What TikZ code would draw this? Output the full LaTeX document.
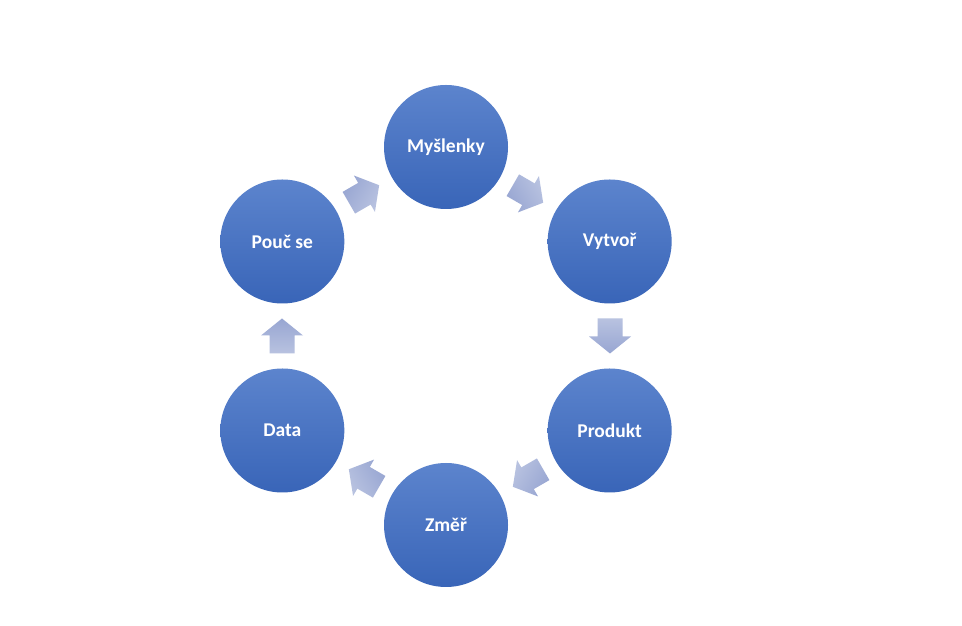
\documentclass[tikz,border=0pt]{standalone}
\usepackage{fontspec}
\setmainfont{Carlito}
\usetikzlibrary{calc}
\definecolor{ctop}{RGB}{92,132,205}
\definecolor{cbot}{RGB}{57,101,184}
\definecolor{atop}{RGB}{184,194,224}
\definecolor{abot}{RGB}{152,166,210}
\tikzset{
  stage/.style={circle, minimum size=124bp, inner sep=0pt, top color=ctop, bottom color=cbot,
    text=white, font=\fontsize{19.5bp}{22bp}\selectfont\bfseries},
}
\begin{document}
\begin{tikzpicture}[x=1bp,y=1bp]
\useasboundingbox[fill=white] (0,0) rectangle (962,626);
\coordinate (o) at (446,290);
\node[stage] (m) at ($(o)+(90:189)$) {Myšlenky};
\node[stage] (v) at ($(o)+(30:189)$) {Vytvoř};
\node[stage] (p) at ($(o)+(-30:189)$) {Produkt};
\node[stage] (z) at ($(o)+(-90:189)$) {Změř};
\node[stage] (d) at ($(o)+(-150:189)$) {Data};
\node[stage] (u) at ($(o)+(150:189)$) {Pouč se};
\foreach \a in {60,0,-60,-120,180,120}{
  \pgfmathsetmacro{\dir}{\a-90}
  \coordinate (c\a) at ($(o)+(\a:164)$);
  \shade[top color=atop, bottom color=abot, shading angle=-\dir-90, shift={(c\a)}, rotate=\dir]
    (-17.5,-12.5) -- (0.5,-12.5) -- (0.5,-21) -- (17.5,0) -- (0.5,21) -- (0.5,12.5) -- (-17.5,12.5) -- cycle;
}
\end{tikzpicture}
\end{document}
